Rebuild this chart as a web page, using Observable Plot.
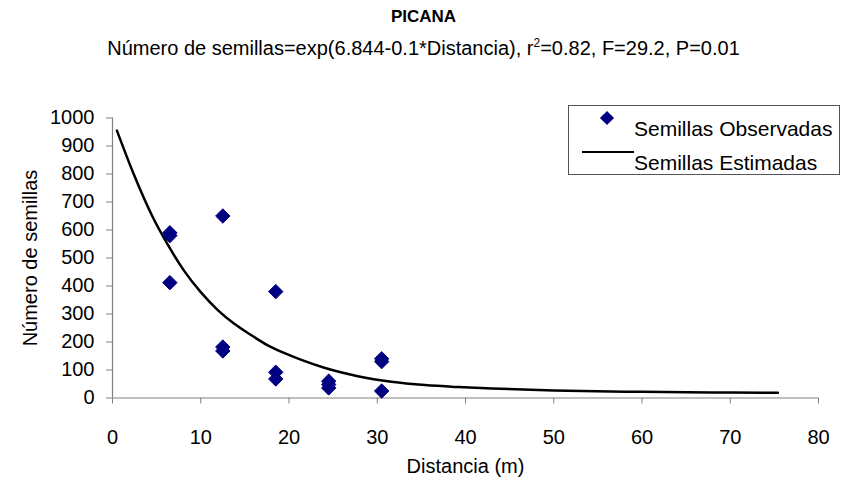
<!DOCTYPE html>
<html><head><meta charset="utf-8">
<script src="https://cdn.jsdelivr.net/npm/d3@7"></script>
<script src="https://cdn.jsdelivr.net/npm/@observablehq/plot@0.6"></script>
<style>
body{margin:0;background:#fff;font-family:"Liberation Sans",Arial,sans-serif;}
#wrap{position:relative;width:847px;height:489px;overflow:hidden;}
#head{position:relative;height:70px;}
.t{position:absolute;left:0;width:847px;top:7px;line-height:20px;text-align:center;font-weight:bold;font-size:17px;}
.s{position:absolute;left:0;width:847px;top:38px;line-height:20px;text-align:center;font-size:20px;}
.s sup{font-size:12px;vertical-align:8px;line-height:0;}
#legend{position:absolute;left:568px;top:105px;width:270px;height:68px;border:1px solid #555;background:#fff;font-size:21px;}
#legend .row{position:absolute;left:65px;line-height:20px;white-space:nowrap;}
#legend .dia{position:absolute;left:33px;top:7px;width:10px;height:10px;background:#000080;transform:rotate(45deg);}
#legend .ln{position:absolute;left:13px;top:45px;width:52px;height:2px;background:#000;}
</style></head>
<body><div id="wrap">
<div id="head"><div class="t">PICANA</div><div class="s">Número de semillas=exp(6.844-0.1*Distancia), r<sup>2</sup>=0.82, F=29.2, P=0.01</div></div>
<div id="chart"></div>
<div id="legend">
  <div class="dia"></div><div class="row" style="top:13px">Semillas Observadas</div>
  <div class="ln"></div><div class="row" style="top:47px">Semillas Estimadas</div>
</div>
</div>
<script>
// Observed seeds
const obsDist  = [6.5, 6.5, 6.5, 12.5, 12.5, 12.5, 18.5, 18.5, 18.5, 24.5, 24.5, 24.5, 30.5, 30.5, 30.5];
const obsSeeds = [590, 580, 412, 650, 182, 168, 380, 92, 68, 60, 48, 36, 140, 130, 25];
// Estimated curve
const fitDist  = [0.5, 2.4, 4.5, 6.2, 8.1, 10, 11.9, 13.8, 15.7, 17.6, 19.5, 21.4, 24, 27.8, 31.6, 35.4, 39.2, 43, 50, 60, 70, 75.4];
const fitSeeds = [955, 800, 650, 551, 455, 378, 315, 265, 225, 188, 160, 136, 108, 78, 58, 46, 39, 34, 27, 22, 19.5, 19];
const xTicks = [0, 10, 20, 30, 40, 50, 60, 70, 80];
const yTicks = [0, 100, 200, 300, 400, 500, 600, 700, 800, 900, 1000];

const obs = obsDist.map((d, i) => ({d, s: obsSeeds[i]}));
const fit = fitDist.map((d, i) => ({d, s: fitSeeds[i]}));
const font = "Liberation Sans, Arial, sans-serif";

const chart = Plot.plot({
  width: 847, height: 419,
  marginTop: 47.5, marginBottom: 91.5, marginLeft: 112, marginRight: 29,
  style: {fontFamily: font, fontSize: "20px", color: "black", background: "white"},
  x: {domain: [0, 80]},
  y: {domain: [0, 1000]},
  marks: [
    Plot.axisX({ticks: xTicks, tickSize: 6, tickPadding: 26, stroke: "#808080", fill: "black", fontSize: 20, label: null, tickFormat: d => String(d)}),
    Plot.axisY({ticks: yTicks, tickSize: 6, tickPadding: 12, stroke: "#808080", fill: "black", fontSize: 20, label: null, tickFormat: d => String(d)}),
    Plot.ruleY([0], {stroke: "#808080", strokeWidth: 1.2}),
    Plot.ruleX([0], {stroke: "#808080", strokeWidth: 1.2}),
    Plot.line(fit, {x: "d", y: "s", curve: "monotone-x", stroke: "black", strokeWidth: 2.5}),
    Plot.dot(obs, {x: "d", y: "s", symbol: "diamond2", r: 6.5, fill: "#000080", stroke: "#000080", strokeWidth: 1}),
    Plot.text(["Distancia (m)"], {frameAnchor: "bottom", dy: 68.5, fontSize: 20, textAnchor: "middle", lineAnchor: "middle"}),
    Plot.text(["Número de semillas"], {frameAnchor: "left", dx: -82, rotate: -90, fontSize: 20, textAnchor: "middle", lineAnchor: "middle"})
  ]
});
document.getElementById("chart").appendChild(chart);
</script>
</body></html>
